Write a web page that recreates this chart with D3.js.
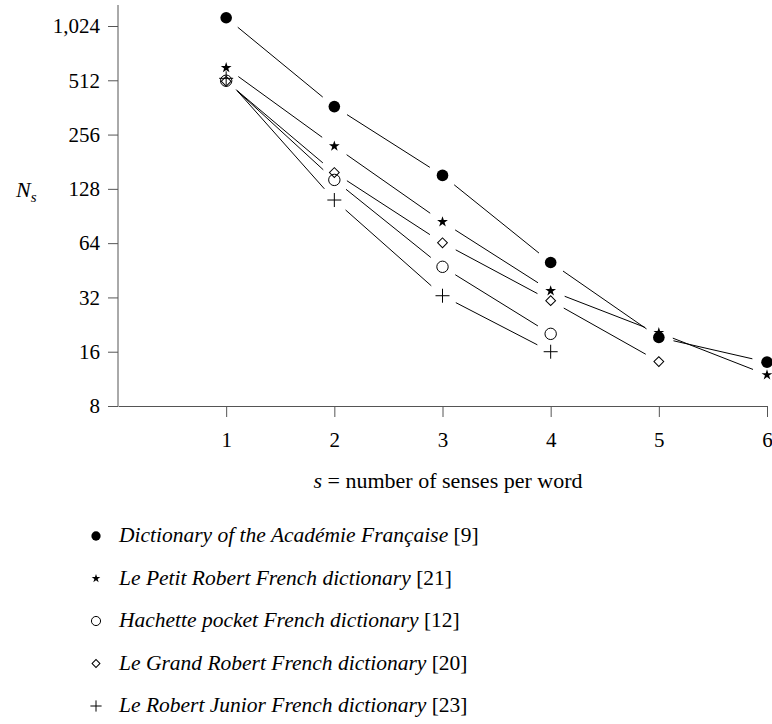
<!DOCTYPE html>
<html>
<head>
<meta charset="utf-8">
<script src="https://cdn.jsdelivr.net/npm/d3@7"></script>
<style>
  body { margin: 0; background: #fff; }
  svg text { font-family: "Liberation Serif", "Times New Roman", serif; fill: #000; }
  .axis path, .axis line { stroke: #555; }
  .axis text { font-size: 21px; }
</style>
</head>
<body>
<svg width="772" height="724"></svg>
<script>
var svg = d3.select("svg");

// data: N_s for s = 1..6
var senses = [1, 2, 3, 4, 5, 6];
var academie = [1138, 366, 152, 50, 19.2, 14];
var petitRobert = [601, 221, 84, 34.8, 20.4, 11.9];
var hachette = [509, 143.5, 47.3, 20.1];
var grandRobert = [505, 157.6, 64.3, 30.7, 14.1];
var robertJunior = [525, 111, 32.7, 16];
var yTicks = [8, 16, 32, 64, 128, 256, 512, 1024];

var series = [
  { name: "Dictionary of the Académie Française", ref: "[9]", values: academie, symbol: "filled" },
  { name: "Le Petit Robert French dictionary", ref: "[21]", values: petitRobert, symbol: "star" },
  { name: "Hachette pocket French dictionary", ref: "[12]", values: hachette, symbol: "circle" },
  { name: "Le Grand Robert French dictionary", ref: "[20]", values: grandRobert, symbol: "diamond" },
  { name: "Le Robert Junior French dictionary", ref: "[23]", values: robertJunior, symbol: "plus" }
];

var x = d3.scaleLinear().domain([0, 6]).range([118, 767]);
var y = d3.scaleLog().base(2).domain([8, 1024]).range([406, 26]);

// axes
var yAxis = svg.append("g")
    .attr("class", "axis")
    .attr("transform", "translate(" + x(0) + ",0)")
    .call(d3.axisLeft(y).tickValues(yTicks).tickFormat(d3.format(",")).tickSize(10).tickSizeOuter(0).tickPadding(8));
yAxis.select(".domain").attr("d", "M0," + y(8) + "V" + (y(1024) - 21));

var xAxis = svg.append("g")
    .attr("class", "axis")
    .attr("transform", "translate(0," + y(8) + ")")
    .call(d3.axisBottom(x).tickValues(senses).tickFormat(d3.format("d")).tickSize(11).tickSizeOuter(0).tickPadding(10));
xAxis.selectAll(".tick text").attr("dy", "0.95em");

// axis titles
var xt = svg.append("text")
    .attr("x", 448).attr("y", 488)
    .attr("text-anchor", "middle")
    .style("font-size", "22px");
xt.append("tspan").style("font-style", "italic").text("s");
xt.append("tspan").text(" = number of senses per word");

var yt = svg.append("text")
    .attr("x", 16).attr("y", 197)
    .style("font-size", "22px");
yt.append("tspan").style("font-style", "italic").text("N");
yt.append("tspan").style("font-style", "italic").style("font-size", "15px").attr("dy", 5).text("s");

// marker drawing
function drawMarker(g, type, cx, cy, scale) {
  var k = scale || 1;
  if (type == "filled") {
    g.append("circle").attr("cx", cx).attr("cy", cy).attr("r", 5.8 * k).attr("fill", "#000");
  } else if (type == "circle") {
    g.append("circle").attr("cx", cx).attr("cy", cy).attr("r", 5.7 * k)
      .attr("fill", "none").attr("stroke", "#000").attr("stroke-width", 1);
  } else if (type == "star") {
    g.append("path").attr("d", d3.symbol(d3.symbolStar, 36 * k * k)())
      .attr("transform", "translate(" + cx + "," + cy + ")").attr("fill", "#000");
  } else if (type == "diamond") {
    g.append("path").attr("d", d3.symbol(d3.symbolSquare, 48 * k * k)())
      .attr("transform", "translate(" + cx + "," + cy + ") rotate(45)")
      .attr("fill", "none").attr("stroke", "#000").attr("stroke-width", 1);
  } else if (type == "plus") {
    var h = 7 * k;
    g.append("path").attr("d", "M" + (cx - h) + "," + cy + "H" + (cx + h) + "M" + cx + "," + (cy - h) + "V" + (cy + h))
      .attr("fill", "none").attr("stroke", "#000").attr("stroke-width", 1);
  }
}

var plot = svg.append("g");
var gap = 15;

series.forEach(function(s) {
  var pts = s.values.map(function(v, i) { return [x(senses[i]), y(v)]; });
  // connecting segments, stopped short of the markers
  for (var i = 0; i < pts.length - 1; i++) {
    var a = pts[i], b = pts[i + 1];
    var dx = b[0] - a[0], dy = b[1] - a[1];
    var len = Math.sqrt(dx * dx + dy * dy);
    var ux = dx / len, uy = dy / len;
    plot.append("line")
      .attr("x1", a[0] + ux * gap).attr("y1", a[1] + uy * gap)
      .attr("x2", b[0] - ux * gap).attr("y2", b[1] - uy * gap)
      .attr("stroke", "#000").attr("stroke-width", 1);
  }
  pts.forEach(function(p) { drawMarker(plot, s.symbol, p[0], p[1]); });
});

// legend
var legend = svg.append("g");
series.forEach(function(s, i) {
  var cy = 536 + i * 42.5;
  drawMarker(legend, s.symbol, 96, cy, 0.8);
  var t = legend.append("text")
    .attr("x", 119).attr("y", cy + 6)
    .style("font-size", "21.5px");
  t.append("tspan").style("font-style", "italic").text(s.name);
  t.append("tspan").text(" " + s.ref);
});
</script>
</body>
</html>
